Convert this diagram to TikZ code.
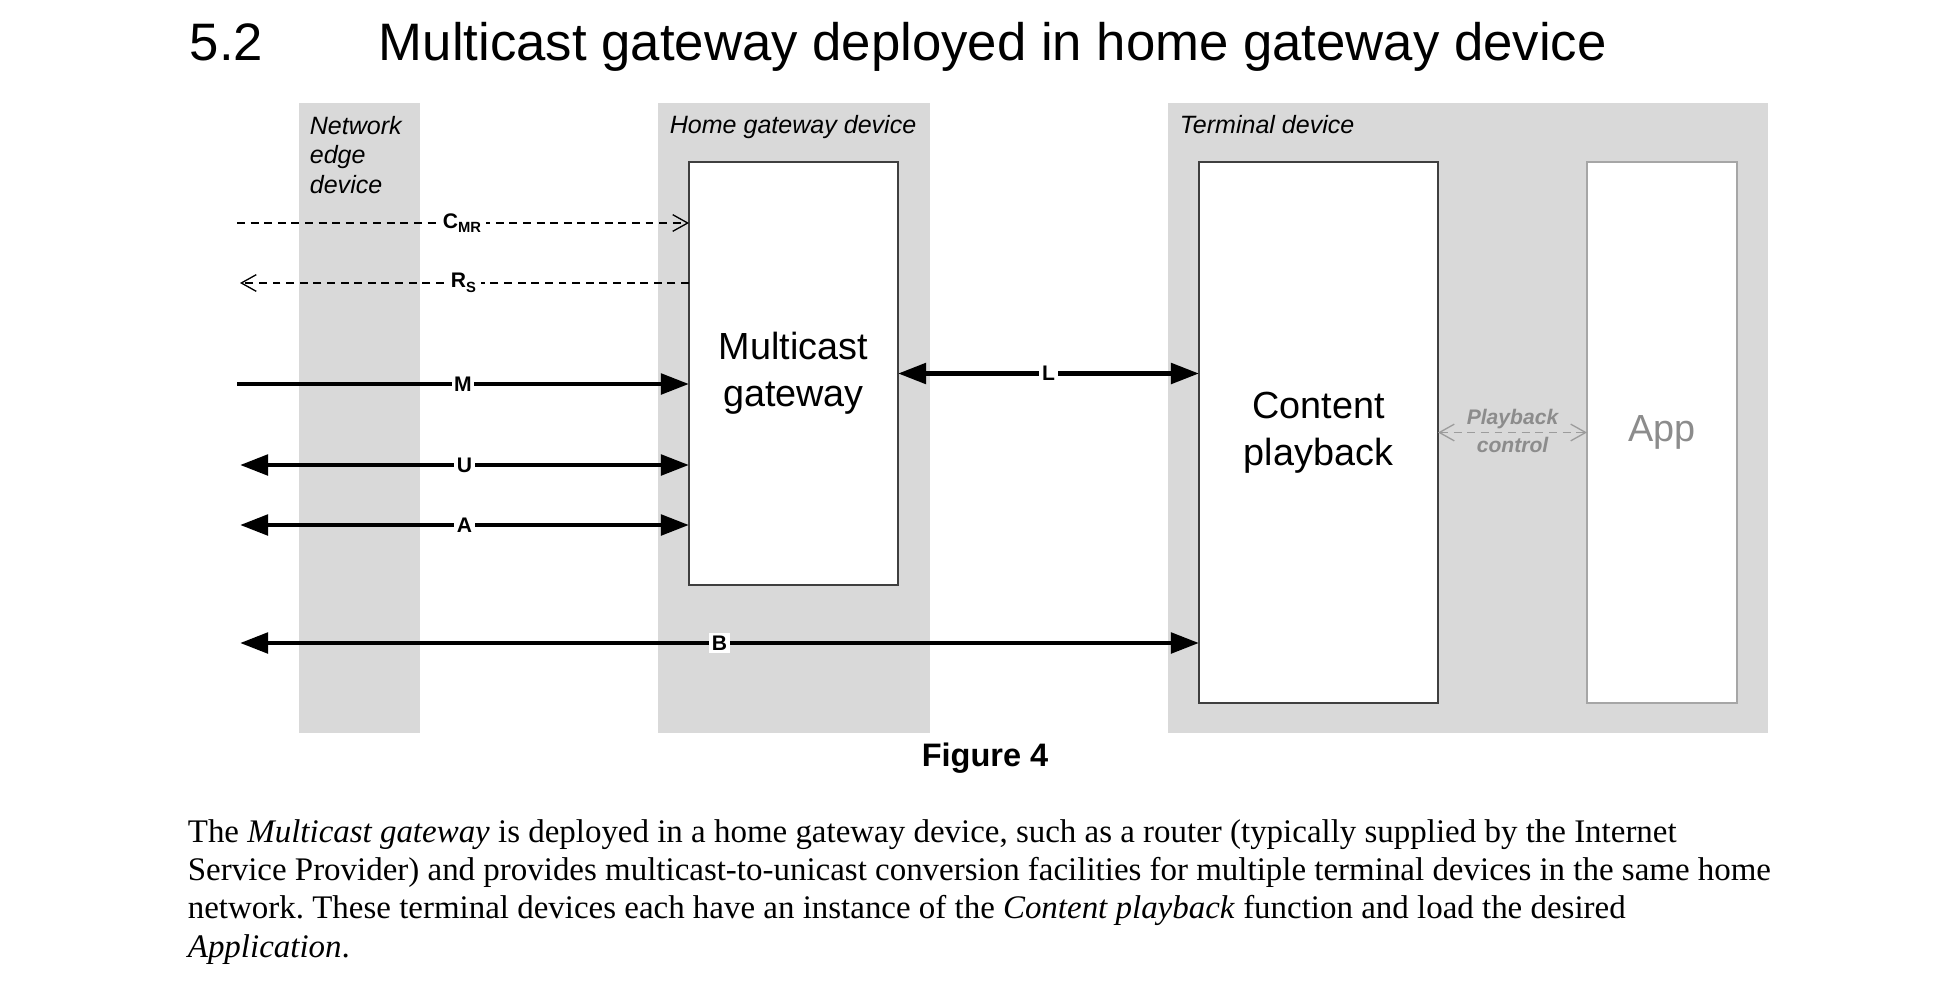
\documentclass[tikz,border=0pt]{standalone}
\usepackage{fontspec}
\setmainfont{Liberation Serif}
\setsansfont{Liberation Sans}
\usetikzlibrary{arrows.meta}

\definecolor{panelgray}{HTML}{D9D9D9}
\definecolor{boxline}{HTML}{3F3F3F}
\definecolor{appline}{HTML}{A6A6A6}
\definecolor{apptext}{HTML}{8C8C8C}
\definecolor{ctrlgray}{HTML}{9C9C9C}

\tikzset{
  bigtip/.tip={Triangle[length=6.4pt,width=4.6pt]},
  smalltip/.tip={Straight Barb[length=3.4pt,width=3.8pt]},
  panel/.style={fill=panelgray},
  fnbox/.style={draw=boxline, fill=white, line width=0.35pt, outer sep=0pt,
    align=center, font=\sffamily\fontsize{8.6pt}{10.7pt}\selectfont},
  panellabel/.style={inner sep=0pt, font=\sffamily\itshape\fontsize{5.7pt}{6.8pt}\selectfont},
  flow/.style={line width=1.1pt},
  ctrlflow/.style={line width=0.3pt, dash pattern=on 1.8pt off 1.3pt},
  lbl/.style={fill=white, inner sep=0.6pt, font=\sffamily\bfseries\fontsize{4.8pt}{5.6pt}\selectfont},
  ctrllbl/.style={inner sep=0pt, text=apptext, font=\sffamily\bfseries\itshape\fontsize{4.8pt}{5.6pt}\selectfont}
}

\begin{document}
\begin{tikzpicture}[x=0.08mm,y=-0.08mm]
        \useasboundingbox (0,0) rectangle (1954,983);

        % Heading.
        \node[anchor=base west, inner sep=0pt, font=\sffamily\fontsize{12pt}{14pt}\selectfont] (secnum) at (189,60) {5.2};
        \node[anchor=base west, inner sep=0pt, font=\sffamily\fontsize{12pt}{14pt}\selectfont] (sectitle) at (378,60) {Multicast gateway deployed in home gateway device};

        % Device panels.
        \fill[panel] (299,103) rectangle (420,733); % Network edge device.
        \fill[panel] (658,103) rectangle (930,733); % Home gateway device.
        \fill[panel] (1168,103) rectangle (1768,733); % Terminal device.
        \node[panellabel, anchor=base west] (nedlabel) at (309,134) {\parbox[t]{2cm}{\raggedright Network\\edge\\device}};
        \node[panellabel, anchor=base west] (hgdlabel) at (669,133) {Home gateway device};
        \node[panellabel, anchor=base west] (tdlabel) at (1179,133) {Terminal device};

        % Functions.
        \node[fnbox, minimum width=1.672cm, minimum height=3.384cm] (mcg) at (793.5,373.5) {Multicast\\gateway};
        \node[fnbox, minimum width=1.912cm, minimum height=4.328cm] (cpb) at (1318.5,432.5) {Content\\playback};
        \node[fnbox, draw=appline, text=apptext, minimum width=1.2cm, minimum height=4.328cm] (app) at (1662,432.5) {App};

        % Free ends on the left.
        \coordinate (cmrend) at (237,223);
        \coordinate (rsend) at (240,283);
        \coordinate (mend) at (237,384);
        \coordinate (uend) at (240,465);
        \coordinate (aend) at (240,525);
        \coordinate (bend) at (240,643);

        % Reference points.
        \draw[ctrlflow, -{smalltip}] (cmrend) -- node[lbl] {C\textsubscript{MR}} (cmrend -| mcg.west);
        \draw[ctrlflow, -{smalltip}] (rsend -| mcg.west) -- node[lbl] {R\textsubscript{S}} (rsend);
        \draw[flow, -{bigtip}] (mend) -- node[lbl] {M} (mend -| mcg.west);
        \draw[flow, {bigtip}-{bigtip}] (uend) -- node[lbl] {U} (uend -| mcg.west);
        \draw[flow, {bigtip}-{bigtip}] (aend) -- node[lbl] {A} (aend -| mcg.west);
        \draw[flow, {bigtip}-{bigtip}] (mcg.east) -- node[lbl] {L} (mcg.east -| cpb.west);
        \draw[flow, {bigtip}-{bigtip}] (bend) -- node[lbl] {B} (bend -| cpb.west);
        \draw[ctrlflow, ctrlgray, {smalltip}-{smalltip}] (cpb.east) -- (app.west)
                node[midway, yshift=3pt, ctrllbl] (pbtop) {Playback}
                node[midway, yshift=-2.9pt, ctrllbl] (pbbot) {control};

        % Caption and text.
        \node[anchor=base, inner sep=0pt, font=\sffamily\bfseries\fontsize{7.4pt}{9pt}\selectfont] (figcap) at (985,766) {Figure 4};
        \node[anchor=base west, inner sep=0pt] (para) at (187,842) {\parbox[t]{15cm}{\fontsize{7.5pt}{8.76pt}\selectfont\frenchspacing\raggedright
                The \textit{Multicast gateway} is deployed in a home gateway device, such as a router (typically supplied by the Internet\\
                Service Provider) and provides multicast-to-unicast conversion facilities for multiple terminal devices in the same home\\
                network. These terminal devices each have an instance of the \textit{Content playback} function and load the desired\\
                \textit{Application}.}};
      \end{tikzpicture}
\end{document}
